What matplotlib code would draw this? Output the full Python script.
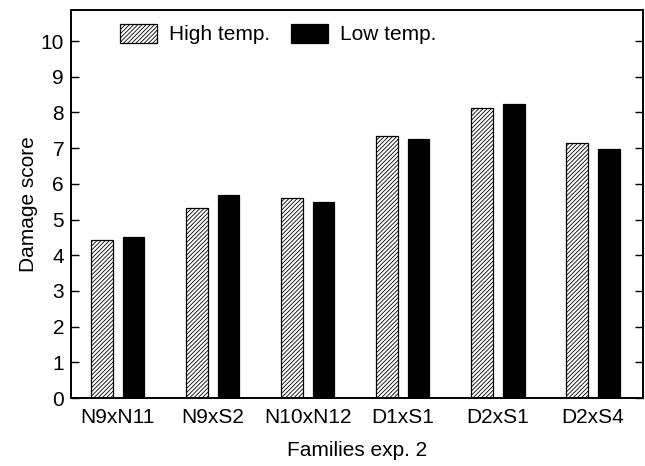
import matplotlib.pyplot as plt
import numpy as np

plt.rcParams['font.family'] = ['Liberation Sans', 'DejaVu Sans']
plt.rcParams['hatch.linewidth'] = 0.6

familias = ['N9xN11', 'N9xS2', 'N10xN12', 'D1xS1', 'D2xS1', 'D2xS4']
alta_temp = [4.43, 5.31, 5.59, 7.34, 8.13, 7.15]
baja_temp = [4.51, 5.70, 5.49, 7.26, 8.24, 6.97]
yticks = list(range(0, 11))

fig = plt.figure(figsize=(6.45, 4.66), dpi=100)
ax = fig.add_axes([71 / 645, 68 / 466, 572 / 645, 388 / 466])

x = np.arange(len(familias))
ancho = 0.23
off = 0.168

ax.bar(x - off, alta_temp, ancho, color='white', edgecolor='black',
       hatch='////////', linewidth=0.9, label='High temp.')
ax.bar(x + off, baja_temp, ancho, color='black', edgecolor='black',
       linewidth=0.9, label='Low temp.')

ax.set_xlim(-0.49, 5.53)
ax.set_ylim(0, 10.87)
ax.set_xticks(x)
ax.set_xticklabels(familias)
ax.set_yticks(yticks)
ax.tick_params(axis='x', length=0, labelsize=15, pad=7)
ax.tick_params(axis='y', direction='in', length=6, width=1, labelsize=15,
               right=True, pad=5)

for s in ax.spines.values():
    s.set_linewidth(1.4)

ax.set_ylabel('Damage score', fontsize=15, labelpad=2)
ax.set_xlabel('Families exp. 2', fontsize=15, labelpad=10)

ax.legend(loc='upper left', bbox_to_anchor=(0.085, 0.965), ncol=2, frameon=False,
          fontsize=15, handlelength=1.78, handleheight=1.05, columnspacing=1.0,
          handletextpad=0.58, borderaxespad=0, borderpad=0)

plt.savefig('out.png')
